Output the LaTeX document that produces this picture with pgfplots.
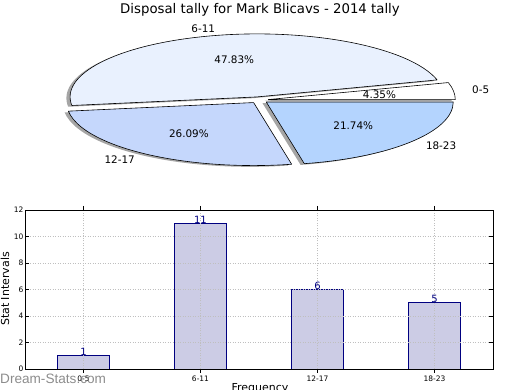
\documentclass[border=0pt]{standalone}
\usepackage{fontspec}
\setmainfont{DejaVu Sans}
\newfontfamily\wmfont{Liberation Sans}
\usepackage{pgfplots}
\pgfplotsset{compat=1.18}

\definecolor{sA}{RGB}{255,255,255}
\definecolor{sB}{RGB}{233,241,254}
\definecolor{sC}{RGB}{197,215,252}
\definecolor{sD}{RGB}{180,212,254}
\definecolor{barfill}{RGB}{204,204,229}
\definecolor{baredge}{RGB}{0,0,128}

% data: disposal counts per interval
\def\nA{1}\def\nB{11}\def\nC{6}\def\nD{5}
\pgfmathsetmacro\tot{\nA+\nB+\nC+\nD}
\pgfmathsetmacro\aA{360*\nA/\tot}
\pgfmathsetmacro\aB{\aA+360*\nB/\tot}
\pgfmathsetmacro\aC{\aB+360*\nC/\tot}
\pgfmathsetmacro\pA{100*\nA/\tot}
\pgfmathsetmacro\pB{100*\nB/\tot}
\pgfmathsetmacro\pC{100*\nC/\tot}
\pgfmathsetmacro\pD{100*\nD/\tot}

\newcommand\pieshadow[2]{%
  \fill[black!70, fill opacity=0.5, xshift=-3.7pt, yshift=-1.26pt]
    (axis cs:0,0) ++({(#1+#2)/2}:9.35pt and 3.15pt)
    -- ++(#1:187pt and 63pt)
    arc[start angle=#1, end angle=#2, x radius=187pt, y radius=63pt] -- cycle;}
\newcommand\pieslice[6]{% start end color label anchor pct
  \filldraw[fill=#3, draw=black, line width=0.6pt, line join=round]
    (axis cs:0,0) ++({(#1+#2)/2}:9.35pt and 3.15pt)
    -- ++(#1:187pt and 63pt)
    arc[start angle=#1, end angle=#2, x radius=187pt, y radius=63pt] -- cycle;
  \path (axis cs:0,0) ++({(#1+#2)/2}:215.05pt and 72.45pt)
    node[anchor=#5, inner sep=0pt, font=\fontsize{10.4}{12}\selectfont]{#4};
  \path (axis cs:0,0) ++({(#1+#2)/2}:121.55pt and 40.95pt)
    node[inner sep=0pt, font=\fontsize{10.4}{12}\selectfont]{\pgfmathprintnumber[fixed,precision=2,fixed zerofill,assume math mode=true]{#6}\%};}

\begin{document}
\begin{tikzpicture}
\useasboundingbox (0,0) rectangle (520pt,390pt);

\node[anchor=base, inner sep=0pt] at (260pt,376pt)
  {\fontsize{13.3}{16}\selectfont Disposal tally for Mark Blicavs - 2014 tally};

% pie chart
\begin{axis}[
  at={(259pt,290pt)}, anchor=center,
  scale only axis, width=400pt, height=150pt,
  xmin=-1, xmax=1, ymin=-1, ymax=1,
  hide axis, clip=false]
\pieshadow{0}{\aA}
\pieshadow{\aA}{\aB}
\pieshadow{\aB}{\aC}
\pieshadow{\aC}{360}
\pieslice{0}{\aA}{sA}{0-5}{west}{\pA}
\pieslice{\aA}{\aB}{sB}{6-11}{east}{\pB}
\pieslice{\aB}{\aC}{sC}{12-17}{east}{\pC}
\pieslice{\aC}{360}{sD}{18-23}{west}{\pD}
\end{axis}

% bar chart
\begin{axis}[
  at={(25pt,21pt)}, anchor=south west,
  scale only axis, width=468pt, height=159pt,
  xmin=-0.5, xmax=3.5, ymin=0, ymax=12,
  xtick={0,1,2,3}, xticklabels={0-5,6-11,12-17,18-23},
  ytick={0,2,...,12},
  tick align=inside, major tick length=4pt,
  tick style={black, line width=0.5pt},
  grid=major,
  grid style={gray!50, dash pattern=on 1pt off 1.5pt, line width=0.7pt},
  axis on top,
  axis line style={line width=0.8pt},
  ticklabel style={font=\fontsize{7.5}{9}\selectfont},
  yticklabel style={inner sep=1.5pt},
  xticklabel style={inner sep=1.5pt, yshift=-1pt},
  /pgf/number format/assume math mode=true,
  ybar, bar width=0.45, bar shift=0pt,
  nodes near coords,
  nodes near coords style={font=\fontsize{10}{12}\selectfont, text=baredge, anchor=base, inner sep=0pt},
]
\addplot[fill=barfill, draw=baredge, line width=0.7pt] coordinates {(0,1) (1,11) (2,6) (3,5)};
\end{axis}

\node[rotate=90, inner sep=0pt] at (5pt,101pt) {\fontsize{11}{13}\selectfont Stat Intervals};
\node[anchor=base, inner sep=0pt] at (260pt,-1.3pt) {\fontsize{11}{13}\selectfont Frequency};
\node[anchor=base west, inner sep=0pt, text=black!50, opacity=0.9] at (0pt,6pt)
  {\wmfont\fontsize{13.6}{15}\selectfont Dream-Stats.com};
\end{tikzpicture}
\end{document}
